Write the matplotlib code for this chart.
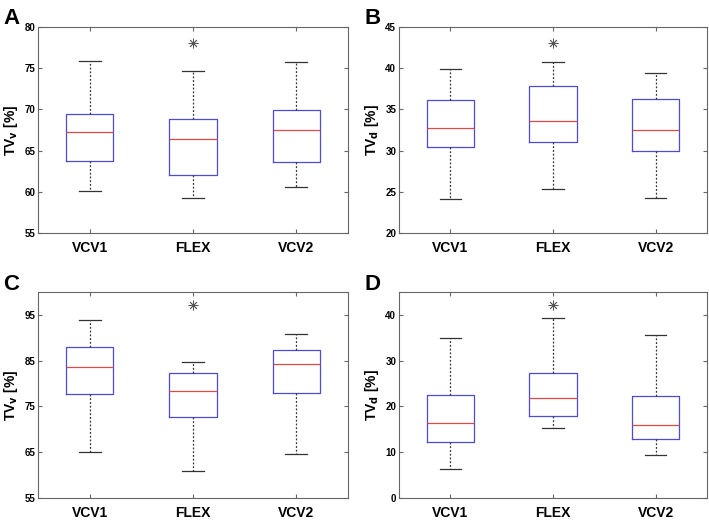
import matplotlib
matplotlib.use("Agg")
import matplotlib.pyplot as plt

plt.rcParams["font.family"] = ["Liberation Sans", "DejaVu Sans"]
plt.rcParams["font.weight"] = "bold"

groups = ["VCV1", "FLEX", "VCV2"]

# per panel: (whislo, q1, med, q3, whishi) for each group, plus outliers
a_stats = [(60.1, 63.7, 67.3, 69.5, 75.9), (59.2, 62.0, 66.4, 68.8, 74.6), (60.6, 63.6, 67.5, 69.9, 75.7)]
a_fliers = [[], [78.0], []]
b_stats = [(24.1, 30.4, 32.7, 36.2, 39.9), (25.3, 31.1, 33.6, 37.9, 40.7), (24.3, 30.0, 32.5, 36.3, 39.4)]
b_fliers = [[], [43.0], []]
c_stats = [(65.1, 77.7, 83.7, 87.9, 93.9), (60.8, 72.8, 78.4, 82.3, 84.8), (64.7, 77.9, 84.2, 87.4, 90.8)]
c_fliers = [[], [97.1], []]
d_stats = [(6.3, 12.3, 16.4, 22.5, 35.0), (15.3, 18.0, 21.9, 27.4, 39.4), (9.3, 12.8, 16.0, 22.3, 35.5)]
d_fliers = [[], [42.1], []]

panels = [
    ("A", a_stats, a_fliers, (55, 80), [55, 60, 65, 70, 75, 80], r"TV$_\mathbf{v}$ [%]"),
    ("B", b_stats, b_fliers, (20, 45), [20, 25, 30, 35, 40, 45], r"TV$_\mathbf{d}$ [%]"),
    ("C", c_stats, c_fliers, (55, 100), [55, 65, 75, 85, 95], r"TV$_\mathbf{v}$ [%]"),
    ("D", d_stats, d_fliers, (0, 45), [0, 10, 20, 30, 40], r"TV$_\mathbf{d}$ [%]"),
]

W, H = 709, 521
fig = plt.figure(figsize=(W / 100, H / 100), dpi=100)
# axes rectangles in pixels: left, top, right, bottom
rects = [(38, 27, 348, 233), (399, 27, 707, 233), (38, 292, 348, 498), (399, 292, 707, 498)]

for (letter, stats, fliers, ylim, yticks, ylabel), (l, t, r, b) in zip(panels, rects):
    ax = fig.add_axes([l / W, 1 - b / H, (r - l) / W, (b - t) / H])
    bx = []
    for name, s, f in zip(groups, stats, fliers):
        bx.append({"label": name, "whislo": s[0], "q1": s[1], "med": s[2],
                   "q3": s[3], "whishi": s[4], "fliers": f})
    ax.bxp(bx, positions=[1, 2, 3], widths=0.46, showfliers=True,
           boxprops=dict(color="#4b4bd6", lw=0.9),
           medianprops=dict(color="#e04848", lw=0.9),
           whiskerprops=dict(color="#333333", lw=0.9, ls=(0, (1.5, 1.5))),
           capprops=dict(color="#333333", lw=0.9),
           capwidths=0.21,
           flierprops=dict(marker=(8, 2, 0), markersize=7, markeredgecolor="#555555",
                           markeredgewidth=0.6, markerfacecolor="none"))
    ax.set_xlim(0.5, 3.5)
    ax.set_ylim(*ylim)
    ax.set_yticks(yticks)
    ax.tick_params(axis="y", direction="in", length=3, labelsize=7, right=True,
                   color="#666666", pad=2)
    ax.tick_params(axis="x", direction="in", length=3, labelsize=10, top=True,
                   color="#666666", pad=6)
    for lab in ax.get_xticklabels() + ax.get_yticklabels():
        lab.set_fontweight("bold")
    for sp in ax.spines.values():
        sp.set_color("#666666")
        sp.set_linewidth(0.8)
    ax.set_ylabel(ylabel, fontsize=10, fontweight="bold", labelpad=3)
    fig.text((l - 35) / W, 1 - (t - 8) / H, letter, fontsize=16, fontweight="bold",
             ha="left", va="center")

fig.savefig("out.png", dpi=100)
